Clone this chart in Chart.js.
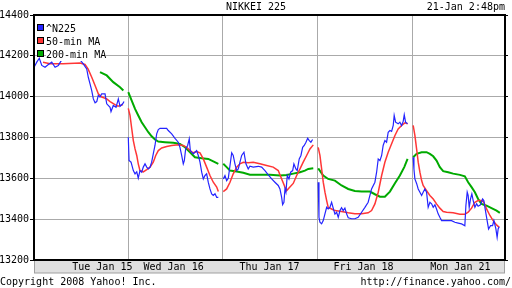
<!DOCTYPE html>
<html><head><meta charset="utf-8">
<script src="https://cdn.jsdelivr.net/npm/chart.js@4"></script>
<style>
html,body{margin:0;padding:0;background:#fff;}
#wrap{position:relative;width:512px;height:288px;overflow:hidden;font-family:'DejaVu Sans Mono',monospace;font-size:10px;color:#000;}
canvas{position:absolute;left:0;top:0;}
.t{position:absolute;line-height:12px;white-space:pre;}
#legend{position:absolute;left:37px;top:22px;}
.row{height:13px;line-height:13px;display:flex;align-items:flex-start;}
.box{width:5px;height:5px;border:1px solid #000;margin-top:2px;margin-right:2px;}
.lab{background:#fff;white-space:pre;}
</style></head>
<body><div id="wrap">
<canvas id="c" width="512" height="288"></canvas>
<div class="t" style="left:0;width:512px;text-align:center;top:1px">NIKKEI 225</div>
<div class="t" style="right:7px;top:1px">21-Jan 2:48pm</div>
<div class="t" style="left:0;top:276px">Copyright 2008 Yahoo! Inc.</div>
<div class="t" style="right:1px;top:276px">http://finance.yahoo.com/</div>
<div id="legend"></div>
</div>
<script>
// time axis in trading days from the chart start (integer = day boundary)
const dayLabels = ['Tue Jan 15','Wed Jan 16','Thu Jan 17','Fri Jan 18','Mon Jan 21'];
const dayLabelPos = [0.73, 1.48, 2.49, 3.48, 4.50];
const dayBreaks = [1, 2, 3, 4];
const yTicks = [13200, 13400, 13600, 13800, 14000, 14200, 14400];

const n225Time = [
 0.011,0.039,0.066,0.092,0.126,0.158,0.197,0.232,0.266,0.302,0.389,0.495,0.529,0.565,0.582,0.600,0.618,0.635,0.653,0.671,0.687,0.705,0.723,0.758,0.776,0.811,0.821,0.845,0.874,0.898,0.916,0.944,0.958,0.98,
 1.003,1.011,1.032,1.056,1.074,1.092,1.108,1.126,1.144,1.161,1.179,1.197,1.214,1.232,1.249,1.266,1.284,1.302,1.319,1.337,1.407,1.424,1.460,1.495,1.529,1.547,1.565,1.582,1.593,1.607,1.628,1.645,1.656,1.671,1.687,1.705,1.723,1.740,1.758,1.776,1.793,1.811,1.828,1.845,1.863,1.881,1.898,1.916,1.934,1.951,1.975,
 2.003,2.021,2.039,2.056,2.074,2.092,2.108,2.126,2.144,2.161,2.179,2.197,2.221,2.242,2.266,2.284,2.319,2.372,2.407,2.442,2.477,2.513,2.547,2.582,2.600,2.618,2.628,2.642,2.653,2.663,2.677,2.695,2.713,2.734,2.747,2.768,2.782,2.803,2.821,2.839,2.856,2.874,2.892,2.909,2.926,2.944,2.975,
 3.003,3.011,3.021,3.039,3.056,3.074,3.092,3.108,3.126,3.144,3.161,3.179,3.197,3.214,3.232,3.249,3.266,3.284,3.302,3.319,3.355,3.389,3.424,3.460,3.495,3.529,3.565,3.600,3.618,3.635,3.653,3.671,3.687,3.705,3.723,3.740,3.758,3.776,3.793,3.803,3.818,3.845,3.863,3.881,3.898,3.909,3.923,3.944,3.975,
 4.003,4.011,4.021,4.039,4.056,4.074,4.092,4.108,4.126,4.144,4.161,4.179,4.197,4.214,4.232,4.249,4.266,4.284,4.302,4.355,4.407,4.442,4.477,4.513,4.547,4.558,4.572,4.582,4.593,4.607,4.621,4.635,4.653,4.671,4.687,4.712,4.734,4.747,4.761,4.776,4.797,4.818,4.839,4.853,4.874,4.887,4.898,4.909
];
const n225Close = [
 14144,14169,14188,14153,14144,14156,14169,14144,14153,14180,14180,14180,14161,14136,14095,14063,14030,13989,13970,13976,14006,13998,14014,14014,13965,13948,13927,13957,13948,13989,13953,13965,13976,null,
 13801,13687,13679,13638,13622,13632,13601,13638,13630,13655,13671,13655,13646,13655,13679,13720,13761,13818,13839,13845,13845,13834,13818,13796,13777,13752,13712,13671,13687,13744,13761,13793,13736,13728,13720,13728,13736,13712,13679,13630,13597,13614,13622,13581,13548,13524,13516,13524,13507,13507,null,
 13597,13614,13589,13600,13663,13725,13712,13671,13638,13646,13679,13712,13728,13671,13646,13659,13655,13659,13655,13638,13617,13597,13581,13565,13548,13507,13471,13483,13548,13532,13614,13597,13630,13638,13671,13646,13638,13695,13712,13752,13761,13777,13796,13785,13777,13790,null,
 13581,13409,13385,13377,13393,13426,13458,13450,13458,13483,13454,13425,13434,13409,13442,13456,13442,13454,13426,13407,13402,13402,13409,13434,13458,13483,13548,13581,13630,13695,13687,13712,13761,13785,13777,13826,13834,13830,13859,13908,13875,13867,13875,13859,13879,13911,13875,13867,null,
 13703,13646,13597,13575,13548,13532,13516,13532,13548,13532,13458,13483,13475,13458,13470,13450,13426,13409,13393,13393,13393,13385,13381,13377,13368,13466,13532,13516,13458,13499,13524,13491,13458,13475,13463,13470,13499,13491,13450,13409,13352,13368,13368,13393,13352,13311,13352,13363
];

const ma50Time = [
 0.105,0.179,0.316,0.495,0.547,0.579,0.618,0.653,0.687,0.723,0.776,0.811,0.863,0.895,0.947,0.98,
 1.003,1.021,1.039,1.056,1.074,1.092,1.108,1.126,1.161,1.197,1.232,1.266,1.292,1.319,1.355,1.407,1.460,1.529,1.582,1.618,1.653,1.687,1.723,1.758,1.793,1.828,1.863,1.898,1.934,1.951,1.975,
 2.003,2.039,2.074,2.108,2.144,2.179,2.214,2.266,2.319,2.389,2.460,2.529,2.582,2.618,2.653,2.671,2.705,2.740,2.776,2.811,2.845,2.881,2.916,2.951,2.975,
 3.003,3.021,3.039,3.056,3.074,3.092,3.108,3.144,3.179,3.249,3.319,3.389,3.460,3.529,3.565,3.600,3.635,3.671,3.705,3.740,3.776,3.811,3.845,3.881,3.916,3.944,3.975,
 4.003,4.021,4.039,4.056,4.074,4.092,4.108,4.144,4.179,4.214,4.249,4.284,4.319,4.355,4.424,4.495,4.547,4.582,4.618,4.653,4.687,4.723,4.747,4.776,4.811,4.845,4.881,4.909
];
const ma50Value = [
 14169,14161,14161,14165,14158,14136,14095,14055,14014,13998,13989,13976,13961,13953,13961,null,
 13943,13908,13844,13785,13744,13712,13671,13638,13632,13643,13655,13679,13712,13736,13749,13756,13761,13765,13761,13752,13736,13725,13731,13725,13695,13655,13614,13581,13557,13535,null,
 13535,13548,13581,13622,13655,13671,13679,13676,13679,13671,13663,13655,13638,13597,13557,13540,13557,13575,13614,13646,13679,13712,13744,13764,null,
 13752,13712,13646,13581,13532,13491,13458,13450,13442,13437,13431,13426,13426,13431,13442,13475,13532,13614,13679,13728,13769,13810,13842,13859,13872,13867,null,
 13859,13810,13744,13679,13630,13589,13565,13540,13516,13499,13475,13454,13437,13434,13431,13424,13424,13434,13454,13483,13491,13491,13483,13450,13418,13393,13372,13360
];

const ma200Time = [
 0.705,0.776,0.845,0.916,0.951,0.98,
 1.003,1.039,1.074,1.108,1.144,1.179,1.214,1.249,1.284,1.319,1.389,1.477,1.547,1.600,1.653,1.705,1.776,1.845,1.898,1.951,1.975,
 2.003,2.039,2.074,2.144,2.214,2.284,2.389,2.495,2.600,2.671,2.740,2.811,2.863,2.898,2.951,2.975,
 3.003,3.056,3.108,3.179,3.249,3.319,3.389,3.460,3.547,3.600,3.653,3.705,3.758,3.811,3.863,3.909,3.944,3.975,
 4.003,4.039,4.092,4.144,4.179,4.214,4.249,4.284,4.319,4.372,4.424,4.495,4.547,4.582,4.618,4.653,4.687,4.723,4.776,4.828,4.881,4.916
];
const ma200Value = [
 14120,14104,14071,14046,14030,null,
 14022,13981,13940,13908,13875,13850,13826,13806,13790,13780,13777,13774,13769,13752,13728,13703,13698,13695,13683,13671,null,
 13671,13655,13638,13633,13627,13618,13618,13618,13614,13616,13623,13630,13638,13646,13649,null,
 13649,13614,13597,13589,13565,13548,13538,13535,13535,13522,13510,13510,13535,13576,13614,13655,13695,null,
 13703,13720,13728,13728,13720,13708,13687,13655,13635,13630,13623,13617,13610,13581,13557,13532,13499,13475,13466,13454,13442,13431
];

const seriesNames = ['^N225', '50-min MA', '200-min MA'];
const seriesColors = ['#2424ff', '#ff3636', '#00aa00'];

function pts(t, v) { return t.map((x, i) => ({ x: x, y: v[i] })); }

Chart.defaults.font.family = "'DejaVu Sans Mono', monospace";
Chart.defaults.font.size = 10;
Chart.defaults.color = '#000';

const frame = {
  id: 'frame',
  beforeDraw(c) {
    const { ctx, chartArea: a } = c;
    ctx.save();
    ctx.fillStyle = '#e0e0e0';
    ctx.fillRect(a.left, a.bottom, a.right - a.left, 13);
    ctx.strokeStyle = '#a0a0a0';
    ctx.lineWidth = 1;
    ctx.strokeRect(a.left + 0.5, a.bottom + 0.5, a.right - a.left - 1, 12.5);
    ctx.restore();
  },
  afterDraw(c) {
    const { ctx, chartArea: a } = c;
    ctx.save();
    ctx.strokeStyle = '#000';
    ctx.lineWidth = 2;
    ctx.strokeRect(a.left, a.top, a.right - a.left, a.bottom - a.top);
    ctx.restore();
  }
};

const chart = new Chart(document.getElementById('c'), {
  type: 'line',
  data: {
    datasets: [
      { label: seriesNames[0], data: pts(n225Time, n225Close), borderColor: seriesColors[0], backgroundColor: seriesColors[0], borderWidth: 1.2 },
      { label: seriesNames[1], data: pts(ma50Time, ma50Value), borderColor: seriesColors[1], backgroundColor: seriesColors[1], borderWidth: 1.5 },
      { label: seriesNames[2], data: pts(ma200Time, ma200Value), borderColor: seriesColors[2], backgroundColor: seriesColors[2], borderWidth: 2 }
    ]
  },
  options: {
    responsive: false,
    animation: false,
    devicePixelRatio: 1,
    spanGaps: false,
    elements: { point: { radius: 0 }, line: { tension: 0, fill: false } },
    layout: { padding: { left: 0, right: 0, top: 15, bottom: 15 } },
    plugins: { legend: { display: false }, tooltip: { enabled: false } },
    scales: {
      x: {
        type: 'linear', position: 'bottom', min: 0.01, max: 4.97,
        afterBuildTicks: s => { s.ticks = dayBreaks.map(v => ({ value: v })); },
        ticks: { display: false },
        grid: { color: '#aaaaaa', lineWidth: 1, drawTicks: false },
        border: { display: false },
        afterFit: s => { s.height = 0; }
      },
      x2: {
        type: 'linear', position: 'bottom', min: 0.01, max: 4.97,
        afterBuildTicks: s => { s.ticks = dayLabelPos.map(v => ({ value: v })); },
        ticks: { autoSkip: false, maxRotation: 0, minRotation: 0, padding: 1, color: '#000',
                 callback: (v, i) => dayLabels[i] },
        grid: { display: false, drawTicks: false },
        border: { display: false },
        afterFit: s => { s.height = 13; }
      },
      y: {
        type: 'linear', position: 'left', min: yTicks[0], max: yTicks[yTicks.length - 1],
        afterBuildTicks: s => { s.ticks = yTicks.map(v => ({ value: v })); },
        ticks: { padding: 1, color: '#000', callback: v => String(v) },
        grid: { color: '#aaaaaa', lineWidth: 1, tickColor: '#000', tickLength: 4 },
        border: { display: false },
        afterFit: s => { s.width = 34; }
      },
      y2: {
        type: 'linear', position: 'right', min: yTicks[0], max: yTicks[yTicks.length - 1],
        afterBuildTicks: s => { s.ticks = yTicks.map(v => ({ value: v })); },
        ticks: { display: false },
        grid: { drawOnChartArea: false, tickColor: '#000', tickLength: 3 },
        border: { display: false },
        afterFit: s => { s.width = 7; }
      }
    }
  },
  plugins: [frame]
});

// legend drawn inside the plot area, built from the datasets
const lg = document.getElementById('legend');
chart.data.datasets.forEach(ds => {
  const row = document.createElement('div'); row.className = 'row';
  const b = document.createElement('div'); b.className = 'box'; b.style.background = ds.borderColor;
  const l = document.createElement('span'); l.className = 'lab'; l.textContent = ds.label;
  row.appendChild(b); row.appendChild(l); lg.appendChild(row);
});
</script>
</body></html>
